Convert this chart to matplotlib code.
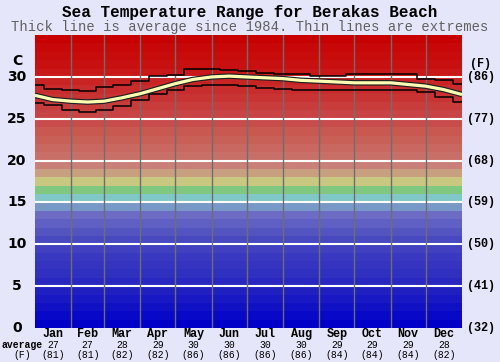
import matplotlib
matplotlib.use("Agg")
import matplotlib.pyplot as plt

# data
days = [0, 15, 31, 45, 59, 74, 90, 105, 120, 135, 151, 166, 181, 196, 212, 227, 243, 258, 273, 288, 304, 319, 334, 349, 365]
avg_c = [27.8, 27.3, 27.1, 27.0, 27.1, 27.5, 28.0, 28.6, 29.2, 29.7, 30.0, 30.1, 30.0, 29.9, 29.8, 29.6, 29.5, 29.4, 29.3, 29.3, 29.3, 29.1, 28.9, 28.5, 27.9]
max_c = [29.0, 28.6, 28.5, 28.3, 28.8, 29.0, 29.5, 30.1, 30.2, 30.9, 30.9, 30.8, 30.7, 30.5, 30.4, 30.3, 30.1, 30.1, 30.3, 30.3, 30.3, 30.3, 29.8, 29.6, 29.1]
min_c = [26.9, 26.6, 26.0, 25.8, 26.1, 26.5, 27.3, 28.0, 28.5, 28.9, 29.0, 29.0, 28.9, 28.7, 28.6, 28.5, 28.5, 28.4, 28.5, 28.5, 28.4, 28.4, 28.2, 27.6, 27.0]

months = ["Jan", "Feb", "Mar", "Apr", "May", "Jun", "Jul", "Aug", "Sep", "Oct", "Nov", "Dec"]
month_start = [0, 31, 59, 90, 120, 151, 181, 212, 243, 273, 304, 334, 365]
month_avg_c = [27, 27, 28, 29, 30, 30, 30, 30, 29, 29, 29, 28]
month_avg_f = [81, 81, 82, 82, 86, 86, 86, 86, 84, 84, 84, 82]

band_colors = ["#0000c8", "#0808c8", "#1010c4", "#1818c4", "#2020c0", "#2828c0", "#3030c0",
               "#3434c0", "#3838c0", "#4040c0", "#4848c0", "#5454c0", "#6060c4", "#6c6cc4",
               "#7898c8", "#80c8c8", "#80c880", "#c8c880", "#c8a080", "#c88078", "#c87068",
               "#c86860", "#c86058", "#c85850", "#c84c4c", "#c84444", "#c83c3c", "#c83434",
               "#c82c2c", "#c82424", "#c81818", "#c81010", "#c80c0c", "#c80808", "#c80000"]

bg = "#e6e6fa"
mono = "Liberation Mono"

fig = plt.figure(figsize=(5, 3.62), dpi=100, facecolor=bg)
ax = fig.add_axes([0.07, 0.094, 0.854, 0.809])

for i, c in enumerate(band_colors):
    ax.axhspan(i, i + 1, color=c, lw=0)
for t in range(5, 35, 5):
    ax.axhline(t, color="white", lw=1.5)
for d in month_start[1:-1]:
    ax.axvline(d, color="#6e6e6e", lw=1)

ax.plot(days, max_c, color="black", lw=1.1, drawstyle="steps-mid")
ax.plot(days, min_c, color="black", lw=1.1, drawstyle="steps-mid")
ax.plot(days, avg_c, color="#202020", lw=4, solid_capstyle="butt")
ax.plot(days, avg_c, color="#ffffb4", lw=2.3, solid_capstyle="butt")

ax.set_xlim(0, 365)
ax.set_ylim(0, 35)
ax.set_xticks([])
ax.set_yticks([])
for s in ax.spines.values():
    s.set_visible(False)

# left / right axis labels
for t in range(0, 35, 5):
    yf = ax.transData.transform((0, t))[1] / 362
    fig.text(0.034, yf, str(t), ha="center", va="center", fontsize=10, family="DejaVu Sans", weight="bold")
    fig.text(0.962, yf, "(%d)" % round(t * 9 / 5 + 32), ha="center", va="center",
             fontsize=8.5, family=mono, weight="bold")
fig.text(0.034, 1 - 61 / 362, "C", ha="center", va="center", fontsize=10, family="DejaVu Sans", weight="bold")
fig.text(0.962, 1 - 64 / 362, "(F)", ha="center", va="center", fontsize=8.5, family=mono, weight="bold")

# month labels
for i, m in enumerate(months):
    mid = (month_start[i] + month_start[i + 1]) / 2
    xf = ax.transData.transform((mid, 0))[0] / 500
    fig.text(xf, 1 - 334 / 362, m, ha="center", va="center", fontsize=8.5, family=mono, weight="bold")
    fig.text(xf, 1 - 345 / 362, str(month_avg_c[i]), ha="center", va="center", fontsize=7, family=mono)
    fig.text(xf, 1 - 355 / 362, "(%d)" % month_avg_f[i], ha="center", va="center", fontsize=7, family=mono)
fig.text(0.044, 1 - 345 / 362, "average", ha="center", va="center", fontsize=7, family=mono, weight="bold")
fig.text(0.044, 1 - 355 / 362, "(F)", ha="center", va="center", fontsize=7, family=mono)

fig.text(0.5, 1 - 12 / 362, "Sea Temperature Range for Berakas Beach", ha="center", va="center",
         fontsize=11.5, family=mono, weight="bold")
fig.text(0.5, 1 - 27 / 362, "Thick line is average since 1984. Thin lines are extremes", ha="center",
         va="center", fontsize=10, family=mono, color="#606060")

fig.savefig("out.png", dpi=100, facecolor=bg)
